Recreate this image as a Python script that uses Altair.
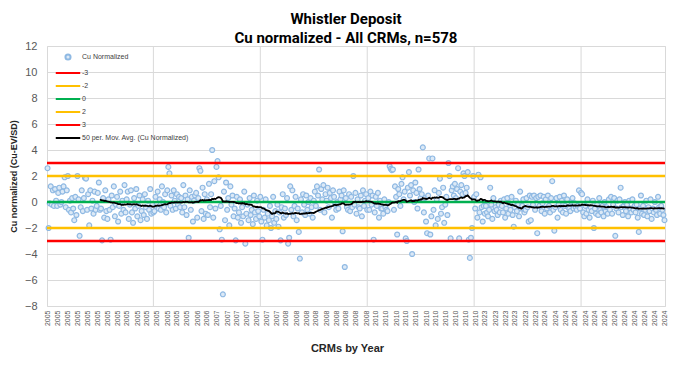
import altair as alt
import pandas as pd

# ---- Cu normalized values in order (578 CRMs) ----
cu_2005 = [
    2.6, -2.0, -0.1, 1.2, -0.2, 0.9, -0.3, 1.0, 0.1, -0.3, 0.7, 1.1, -0.2, 0.0, 0.8, 1.2, 1.9, -0.4, 0.9, 2.0, -0.6, 0.1, -0.8, 0.3, -0.5,
    -1.4, 0.4, -1.0, 2.0, 0.2, -2.6, -0.4, 0.9, -0.7, 0.3, 1.85, 1.8, -0.6, 0.6, -1.8, 0.9, -0.5, 0.1, -0.9, 0.8, -0.6, -0.3, 0.7, 1.5, -0.6,
    -0.5, -2.95, 0.3, -1.2, 0.9, -0.7, -1.3, 0.2, -0.6, -2.9, 0.5, -0.4, 1.2, -1.1, -0.2, 0.4, -1.5, -0.3, 0.8, -0.9, 0.1, -0.6, 1.3, -0.8, 0.2,
    0.8, -1.3, -0.2, 0.9, -0.8, -1.6, 0.3, -0.5, 1.0, -1.1, -0.3, 0.5, -1.4, -0.7, 0.2, -1.0, 0.6, -0.4, -1.3, 0.1, -0.6, 1.0, -0.9, -0.2, -0.8,
    -0.7, 0.4, -0.2, 0.8, -0.5, 0.2, -0.6, 1.2, 0.0, -0.4, 0.6, -0.8, 0.9, 2.7, 2.2, -0.3, 0.5, -0.6, 0.9, 0.1, -0.5, 0.6, -0.2, 0.4, -0.4,
    0.3, -0.8, 1.3, -0.4, 0.5, -1.0, 0.2, -2.75, 0.9, -0.6, 0.4, -1.5, 0.1, 0.5, 0.7, -1.2, 0.3, 2.6, 2.4, -0.7, 1.1, -1.3, 0.6, -0.9, 0.2,
]
cu_2006_2007 = [
    -1.0, 1.4, -0.4, 0.6, 4.0, -1.2, 1.6, -0.5, 2.7, 3.15, 1.9, -2.1, -0.3, -2.9, -7.1, 0.8, -1.4, 1.5, -0.6, 0.3, -1.8, 1.2, -0.2, 0.5, -1.1,
    -0.5, -2.95, 0.4, -1.2, -0.8, 0.2, -1.6, -0.4, -1.1, 0.8, -3.2, -0.9, -0.2, -1.4, 0.3, -1.0, -0.6, -1.7, 0.5, -0.8, -1.3, 0.1, -0.7, -1.1, 0.4,
    -1.5, -2.9, -0.6, -1.2, 0.2, -1.8, -0.9, -1.4, -0.3, -2.0, -1.1, 0.4, -1.6, -0.7, -1.3, -0.2, -1.9, -0.8, -2.95, -0.4, 0.6, -1.2, -0.5, -1.0, 0.3,
]
cu_2008 = [
    -3.2, -2.75, 1.2, -0.6, 0.9, -1.1, -0.3, 0.4, -1.4, -0.5, -2.3, -4.35, 0.2, -0.8, 0.6, -0.2, -1.0, 0.5, -0.6, 0.0, -0.9, 0.3, -0.4, -1.2, 0.1,
    0.8, -0.3, 1.2, 0.5, 2.5, -0.6, 1.0, 0.2, 1.3, -0.8, 0.6, 0.1, 1.1, -0.4, 0.7, 0.3, -1.2, 0.9, 0.4, -0.2, -0.6, 0.0, -0.5, 0.8, 0.2,
    0.5, -2.25, 0.9, -5.0, 0.3, -0.4, -0.6, 0.6, -0.7, 0.4, -0.4, 2.0, -0.2, 0.7, -0.9, 0.2, -0.4, -0.5, 0.5, -1.1, 0.9, -0.3, 0.1, 0.6, -0.6,
]
cu_2010 = [
    0.3, -0.6, 0.8, -0.2, 0.5, -2.9, -0.8, 0.4, -0.3, 0.7, -1.2, 0.1, -0.5, -0.5, -0.9, 0.2, -0.4, -0.6, -0.7, 0.0, 2.75, 2.55, 2.45, 2.5, -0.6,
    1.2, 0.4, -2.5, 1.0, 0.6, -0.3, 1.4, 1.9, 0.2, 0.8, -2.8, -3.0, 1.1, 2.3, 0.5, 1.3, -4.0, 0.9, 0.0, 1.5, 0.7, -0.5, 2.5, 1.0, 0.3,
    0.6, 4.2, -0.8, 0.3, -1.5, -2.4, 0.5, 3.35, -2.5, -1.1, 3.35, -0.6, 0.9, -1.8, 0.2, -1.3, 0.7, 1.8, -0.9, -0.4, 1.1, -1.6, -0.2, 0.4, -1.0,
    3.0, 2.0, -2.8, 0.9, 1.2, 0.5, 1.4, 0.3, 1.0, 2.6, -2.8, 0.8, 1.3, 0.6, 2.2, 2.0, 0.7, 1.1, 2.3, -2.9, -4.3, -2.75, -2.0, 2.0, 0.4,
]
cu_2023 = [
    -0.5, 0.6, -1.2, 2.1, -0.8, 1.9, -0.4, -1.5, -0.3, -0.9, -0.3, -0.8, -1.1, -0.6, 1.1, -0.2, -1.3, 0.3, -0.7, -0.4, -0.6, -1.0, -0.2, -0.8, 0.1,
    -0.3, -0.8, 0.2, -1.2, -0.5, 0.3, -0.9, -0.1, -0.6, 0.4, -1.0, -1.9, -0.4, 0.1, -0.7, -0.2, -1.1, 0.8, -0.5, -0.3, 0.2, -0.8, -0.6, 0.3, -0.4,
    -1.5, 0.5, -1.4, 0.4, -0.2, 0.5, -0.6, 0.3, -2.4, 0.4, -0.3, 0.5, -0.7, -0.1, 0.4, -0.9, 0.2, -0.5, 0.5, -0.3, -0.8, 0.3, 1.6, -0.6, -2.2,
]
cu_2024 = [
    -0.4, 0.3, -1.2, -0.2, 0.4, -0.6, 0.1, -0.8, 0.5, -0.3, -0.9, 0.2, -0.4, -0.5, -0.7, 0.0, 0.3, -0.5, -0.1, -0.4, -0.6, -0.3, 0.9, -0.5, 0.7,
    0.6, -0.8, -1.1, -0.3, -0.9, 0.2, -0.6, -1.2, -0.4, -0.7, 0.1, -2.0, -0.5, -0.9, -0.2, -1.0, 0.3, -0.6, -0.8, -0.3, -1.1, 0.0, -0.7, -0.4, -0.9,
    0.2, -0.6, 0.4, -0.9, -0.2, 0.3, -2.6, -0.5, 0.1, -0.8, 0.2, 1.1, -0.4, -1.0, -0.3, 0.0, -0.7, -0.2, -1.1, 0.1, -0.5, -0.8, 0.2, -0.6, -0.3,
    -0.8, -0.2, -1.2, -2.3, -0.5, 0.5, -0.9, -0.3, -1.0, -0.6, 0.1, -1.1, -0.4, -0.7, 0.2, -1.3, -0.5, -0.8, 0.0, -0.6, -1.0, 0.4, -0.4, -0.9, -0.3,
    -0.6, -1.0, -1.4,
]

# ---- category-axis tick labels (left to right) ----
tick_years = (["2005"] * 15 + ["2006"] * 2 + ["2007"] * 7 + ["2008"] * 9
              + ["2010"] * 11 + ["2023"] * 6 + ["2024"] * 13)

# ---- control lines ----
control_names = ["-3", "-2", "0", "2", "3"]
control_levels = [-3, -2, 0, 2, 3]

series_domain = ["Cu Normalized", "-3", "-2", "0", "2", "3", "50 per. Mov. Avg. (Cu Normalized)"]
series_colors = ["#8fb9e3", "#ff0000", "#ffc000", "#00b050", "#ffc000", "#ff0000", "#000000"]
LINE_SYMBOL = "M-4.8,0H4.8"
series_shapes = ["circle"] + [LINE_SYMBOL] * 6

grid_every = 100

values = cu_2005 + cu_2006_2007 + cu_2008 + cu_2010 + cu_2023 + cu_2024
n = len(values)

df = pd.DataFrame({"idx": list(range(1, n + 1)), "value": values})
df_ctrl = pd.DataFrame({"level": control_levels, "series": control_names})
df_grid = pd.DataFrame({"idx": list(range(grid_every, n, grid_every))})

n_ticks = len(tick_years)
tick_vals = [1 + round(k * (n - 1) / (n_ticks - 1)) for k in range(n_ticks)]
years_js = "[" + ",".join("'" + y + "'" for y in tick_years) + "]"
ticks_js = "[" + ",".join(str(t) for t in tick_vals) + "]"
label_expr = f"{years_js}[indexof({ticks_js}, datum.value)]"

FONT = "Liberation Sans"
TITLE_FONT = "Roboto"

x_scale = alt.Scale(domain=[0.5, n + 0.5], nice=False, zero=False)
y_scale = alt.Scale(domain=[-8, 12], nice=False)

x_axis = alt.Axis(
    values=tick_vals, labelExpr=label_expr, grid=False, domain=False, ticks=False,
    labelAngle=270, labelAlign="right", labelBaseline="middle", labelFontSize=7,
    labelColor="#595959", labelPadding=4, labelOverlap=False, labelFlush=False,
    title="CRMs by Year", titleFontSize=11, titleFontWeight="bold", titleColor="#262626",
    titleFont=FONT, labelFont=FONT, titleX=300, titleY=36,
)
y_axis = alt.Axis(
    values=list(range(-8, 13, 2)), grid=True, gridColor="#d9d9d9", domain=False, ticks=False,
    tickSize=0, labelFontSize=11, labelColor="#595959", labelPadding=10, labelFont=FONT,
    title="Cu normalized (Cu-EV/SD)", titleFontSize=9, titleFontWeight="bold",
    titleColor="#262626", titleFont=FONT, titlePadding=6,
)

legend = alt.Legend(
    title=None, orient="none", legendX=17, legendY=7, padding=0,
    symbolSize=26, labelFontSize=7, labelFont=FONT, labelColor="#404040",
    labelOffset=10, rowPadding=5, symbolStrokeWidth=2, symbolFillColor="#dce9f6",
    symbolOpacity=1,
)

color = alt.Color("series:N", scale=alt.Scale(domain=series_domain, range=series_colors), legend=legend)
shape = alt.Shape("series:N", scale=alt.Scale(domain=series_domain, range=series_shapes), legend=legend)

grid = alt.Chart(df_grid).mark_rule(color="#d9d9d9", strokeWidth=1).encode(
    x=alt.X("idx:Q", scale=x_scale, axis=x_axis)
)

points = alt.Chart(df).transform_calculate(series="'Cu Normalized'").mark_point(
    filled=False, fill="#dce9f6", fillOpacity=1, size=24, strokeWidth=1.2, opacity=1
).encode(
    x=alt.X("idx:Q", scale=x_scale, axis=x_axis),
    y=alt.Y("value:Q", scale=y_scale, axis=y_axis),
    color=color,
    shape=shape,
)

ctrl = alt.Chart(df_ctrl).mark_rule(strokeWidth=2.5).encode(
    y=alt.Y("level:Q", scale=y_scale, axis=y_axis),
    color=color,
)

ma = alt.Chart(df).transform_window(
    ma="mean(value)", frame=[-49, 0], sort=[alt.SortField("idx")]
).transform_filter("datum.idx >= 50").transform_calculate(
    series="'50 per. Mov. Avg. (Cu Normalized)'"
).mark_line(strokeWidth=1.8).encode(
    x=alt.X("idx:Q", scale=x_scale, axis=x_axis),
    y=alt.Y("ma:Q", scale=y_scale, axis=y_axis),
    color=color,
)

chart = alt.layer(grid, points, ctrl, ma).properties(
    width=618, height=260,
    title=alt.TitleParams(
        text=["Whistler Deposit", f"Cu normalized - All CRMs, n={n}"],
        font=TITLE_FONT, fontSize=15, fontWeight="bold", color="#000000",
        anchor="middle", lineHeight=19, offset=4, dx=-10, dy=10,
    ),
    autosize=alt.AutoSizeParams(type="none"),
    padding={"left": 39, "top": 38, "right": 25, "bottom": 56},
    background="white",
).configure_view(stroke="#d9d9d9")

chart.save("out.html", embed_options={"renderer": "svg", "actions": False})
